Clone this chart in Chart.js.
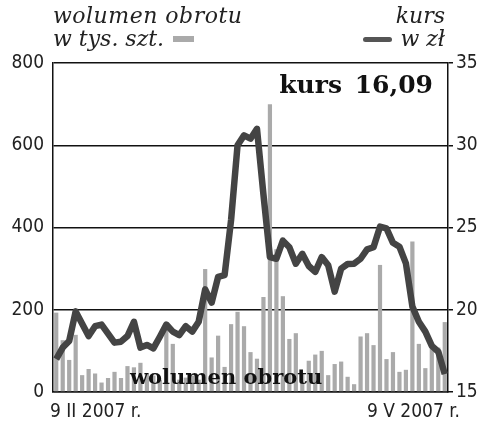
<!DOCTYPE html>
<html>
<head>
<meta charset="utf-8">
<script src="https://cdn.jsdelivr.net/npm/chart.js@4/dist/chart.umd.min.js"></script>
<style>
  html, body { margin: 0; padding: 0; background: #fff; }
  #wrap { position: relative; width: 500px; height: 432px; overflow: hidden; }
  #wrap canvas { position: absolute; left: 0; top: 0; }
  .txt { position: absolute; color: #222; white-space: nowrap; }
  .serif-i { font-family: 'DejaVu Serif', 'Liberation Serif', serif; font-style: italic; font-size: 22px; line-height: 23px; }
  .slab { font-family: 'DejaVu Serif', 'Liberation Serif', serif; font-weight: bold; color: #111; }
  .cond { font-family: 'DejaVu Sans Condensed', 'Liberation Sans Narrow', sans-serif; font-size: 19px; }
</style>
</head>
<body>
<div id="wrap">
  <canvas id="chart" width="500" height="432"></canvas>

  <div class="txt serif-i" style="left:53px; top:4px;"><span style="letter-spacing:0.5px;">wolumen obrotu</span><br>w tys. szt.</div>
  <div style="position:absolute; left:173px; top:36px; width:21px; height:6px; background:#aaa;"></div>

  <div class="txt serif-i" style="right:55px; top:4px; text-align:right;">kurs<br>w zł</div>
  <div style="position:absolute; left:363px; top:37px; width:29px; height:5px; border-radius:3px; background:#555;"></div>

  <div class="txt slab" style="right:67px; top:70px; font-size:25px; word-spacing:4px;">kurs 16,09</div>
  <div class="txt slab" style="left:130px; top:364px; font-size:21px;">wolumen obrotu</div>

  <div class="txt cond" id="xFirst" style="left:50px; top:399px;"></div>
  <div class="txt cond" id="xLast" style="right:40px; top:399px;"></div>
</div>

<script>
// wolumen obrotu (tys. szt.) i kurs (zł) - sesje od 9 II do 9 V 2007
const volume = [193, 126, 78, 139, 41, 56, 45, 23, 34, 49,
                34, 63, 60, 71, 45, 40, 30, 168, 117, 30,
                35, 40, 30, 299, 84, 137, 61, 165, 195, 160,
                97, 81, 231, 700, 347, 233, 129, 143, 44, 76,
                91, 100, 41, 68, 74, 37, 19, 135, 143, 114,
                309, 80, 97, 49, 54, 366, 117, 58, 118, 108,
                170];
const price = [17.0, 17.7, 18.1, 19.9, 19.15, 18.4, 19.0, 19.1, 18.55, 18.0,
               18.06, 18.4, 19.27, 17.7, 17.86, 17.65, 18.36, 19.1, 18.67, 18.46,
               19.0, 18.67, 19.27, 21.24, 20.43, 22.0, 22.1, 25.45, 30.0, 30.6,
               30.4, 31.0, 27.0, 23.2, 23.1, 24.2, 23.8, 22.8, 23.4, 22.66,
               22.3, 23.2, 22.7, 21.1, 22.5, 22.78, 22.8, 23.1, 23.67, 23.8,
               25.05, 24.95, 24.07, 23.83, 22.82, 20.19, 19.27, 18.67, 17.8, 17.45,
               16.09];
const sessions = volume.map((_, i) => String(i + 1));
const xTickLabels = ['9 II 2007 r.', '9 V 2007 r.'];
const volumeTicks = [0, 200, 400, 600, 800];
const priceTicks = [15, 20, 25, 30, 35];

document.getElementById('xFirst').textContent = xTickLabels[0];
document.getElementById('xLast').textContent = xTickLabels[1];

const tickFont = { family: "'DejaVu Sans Condensed', 'Liberation Sans Narrow', sans-serif", size: 19 };
const ink = '#111';

new Chart(document.getElementById('chart').getContext('2d'), {
    data: {
        labels: sessions,
        datasets: [
            { type: 'line', label: 'kurs', data: price, yAxisID: 'y1', order: 0,
              borderColor: '#444', borderWidth: 6.5, pointRadius: 0, tension: 0,
              borderJoinStyle: 'round', borderCapStyle: 'butt' },
            { type: 'bar', label: 'wolumen', data: volume, yAxisID: 'y', order: 1,
              backgroundColor: '#aaa', barPercentage: 0.65, categoryPercentage: 1.0 }
        ]
    },
    options: {
        responsive: false,
        animation: false,
        devicePixelRatio: 1,
        layout: { padding: { top: 63, left: 0, right: 0, bottom: 0 } },
        plugins: { legend: { display: false }, tooltip: { enabled: false } },
        scales: {
            x: {
                offset: true,
                grid: { display: false },
                border: { display: true, color: ink, width: 1.5 },
                ticks: { display: false },
                afterFit: s => { s.height = 40; }
            },
            y: {
                position: 'left',
                min: volumeTicks[0], max: volumeTicks[volumeTicks.length - 1],
                ticks: { stepSize: volumeTicks[1] - volumeTicks[0], font: tickFont, color: '#222', padding: 9 },
                grid: { color: ink, lineWidth: 1.5, drawTicks: false },
                border: { display: true, color: ink, width: 1.5 },
                afterFit: s => { s.width = 53; }
            },
            y1: {
                position: 'right',
                min: priceTicks[0], max: priceTicks[priceTicks.length - 1],
                ticks: { stepSize: priceTicks[1] - priceTicks[0], font: tickFont, color: '#222', padding: 3 },
                grid: { drawOnChartArea: false, drawTicks: true, tickLength: 5, color: ink, lineWidth: 1.5 },
                border: { display: true, color: ink, width: 1.5 },
                afterFit: s => { s.width = 52; }
            }
        }
    }
});
</script>
</body>
</html>
